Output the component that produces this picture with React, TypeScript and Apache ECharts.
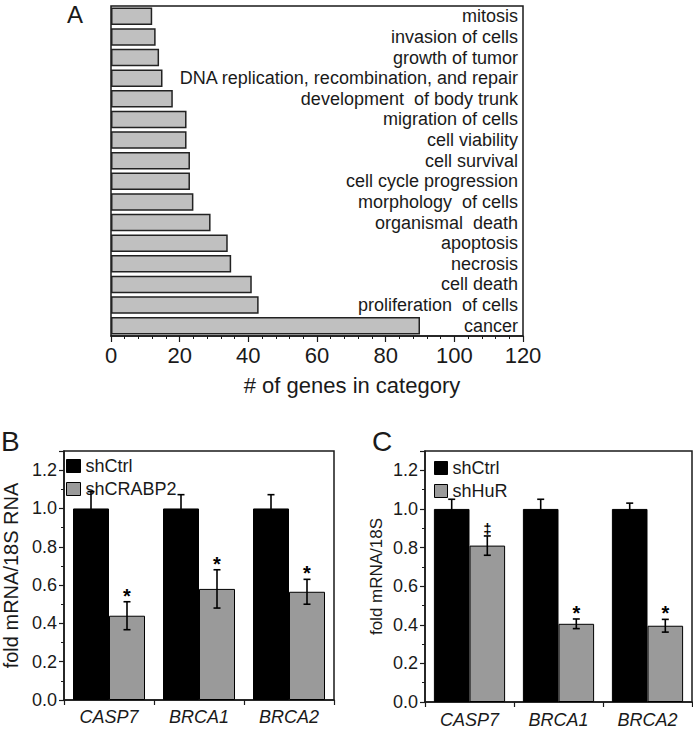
import React, { useEffect, useRef } from "react";
import * as echarts from "echarts";

const FONT = "'Liberation Sans', Arial, sans-serif";

// Panel A
const categoriesA = [
  "mitosis",
  "invasion of cells",
  "growth of tumor",
  "DNA replication, recombination, and repair",
  "development  of body trunk",
  "migration of cells",
  "cell viability",
  "cell survival",
  "cell cycle progression",
  "morphology  of cells",
  "organismal  death",
  "apoptosis",
  "necrosis",
  "cell death",
  "proliferation  of cells",
  "cancer",
];
const valuesA = [12, 13, 14, 15, 18, 22, 22, 23, 23, 24, 29, 34, 35, 41, 43, 90];
const ticksA = [0, 20, 40, 60, 80, 100, 120];

// Panels B and C
const genes = ["CASP7", "BRCA1", "BRCA2"];
const yTicks = [0, 0.2, 0.4, 0.6, 0.8, 1.0, 1.2];

const ctrlB = [1.0, 1.0, 1.0];
const ctrlErrB = [0.088, 0.072, 0.072];
const crabp2B = [0.44, 0.58, 0.565];
const crabp2ErrB = [0.073, 0.1, 0.065];
const marksB = ["*", "*", "*"];

const ctrlC = [1.0, 1.0, 1.0];
const ctrlErrC = [0.05, 0.05, 0.03];
const hurC = [0.81, 0.405, 0.395];
const hurErrC = [0.05, 0.025, 0.033];
const marksC = ["\u2021", "*", "*"];

const INK = "#1a1a1a";

function errData(ctrl: number[], ctrlErr: number[], kd: number[], kdErr: number[]) {
  const out: number[][] = [];
  for (let i = 0; i < ctrl.length; i++) {
    out.push([i, ctrl[i], ctrlErr[i], -1]);
    out.push([i, kd[i], kdErr[i], 1]);
  }
  return out;
}

function makeErrRender(marks: string[], markSize: number[]) {
  return (params: any, api: any) => {
    const i = api.value(0);
    const v = api.value(1);
    const e = api.value(2);
    const s = api.value(3);
    const band = api.size([1, 0])[0];
    const cx = api.coord([i, v])[0] + s * band * 0.2;
    const top = api.coord([i, v + e])[1];
    const bot = api.coord([i, v - e])[1];
    const cap = 3.5;
    const ls = { stroke: "#000", lineWidth: 1.6 };
    const children: any[] = [
      { type: "line", shape: { x1: cx, y1: top, x2: cx, y2: bot }, style: ls },
      { type: "line", shape: { x1: cx - cap, y1: top, x2: cx + cap, y2: top }, style: ls },
      { type: "line", shape: { x1: cx - cap, y1: bot, x2: cx + cap, y2: bot }, style: ls },
    ];
    if (s > 0) {
      const k = Math.floor(params.dataIndex / 2);
      const m = marks[k];
      const fs = markSize[k];
      children.push({
        type: "text",
        x: cx,
        y: top + (m === "*" ? 4 : 0),
        style: {
          text: m,
          fontSize: fs,
          fontFamily: FONT,
          fontWeight: "bold",
          fill: "#000",
          align: "center",
          verticalAlign: "bottom",
        },
      });
    }
    return { type: "group", children };
  };
}

const yLabelFmt = (v: number) =>
  yTicks.some((t) => Math.abs(t - v) < 1e-6) ? v.toFixed(1) : "";

function valueYAxis(gridIndex: number, name: string, nameGap: number, nameSize: number) {
  return {
    type: "value",
    gridIndex,
    min: 0,
    max: 1.3,
    interval: 0.2,
    name,
    nameLocation: "middle",
    nameRotate: 90,
    nameGap,
    nameTextStyle: { fontSize: nameSize, fontFamily: FONT, color: INK },
    axisLine: { show: true, lineStyle: { color: INK, width: 1.5 } },
    axisTick: { show: true, length: 5, lineStyle: { color: INK, width: 1.2 } },
    minorTick: { show: true, splitNumber: 2, length: 3, lineStyle: { color: INK, width: 1 } },
    splitLine: { show: false },
    axisLabel: { formatter: yLabelFmt, fontSize: 18, fontFamily: FONT, color: INK, margin: 7 },
  };
}

function catXAxis(gridIndex: number, margin: number) {
  return {
    type: "category",
    gridIndex,
    data: genes,
    axisLine: { show: true, lineStyle: { color: INK, width: 1.5 } },
    axisTick: { show: true, length: 5, lineStyle: { color: INK, width: 1.2 } },
    axisLabel: {
      fontSize: 18,
      fontStyle: "italic",
      fontFamily: FONT,
      color: INK,
      margin,
    },
    splitLine: { show: false },
  };
}

export default function App() {
  const ref = useRef<HTMLDivElement>(null);

  useEffect(() => {
    if (!ref.current) return;
    const chart = echarts.init(ref.current, undefined, { renderer: "svg" });

    const option: any = {
      animation: false,
      backgroundColor: "#ffffff",
      textStyle: { fontFamily: FONT },
      graphic: [
        { type: "text", left: 67, top: 2, style: { text: "A", fontSize: 24, fontFamily: FONT, fill: INK } },
        { type: "text", left: 1, top: 427, style: { text: "B", fontSize: 28, fontFamily: FONT, fill: INK } },
        { type: "text", left: 372, top: 427, style: { text: "C", fontSize: 28, fontFamily: FONT, fill: INK } },
      ],
      grid: [
        { left: 111, top: 6, width: 412, height: 330, show: true, borderColor: INK, borderWidth: 1.5, backgroundColor: "transparent" },
        { left: 57, top: 451, width: 277, height: 249, show: true, borderColor: INK, borderWidth: 1.5, backgroundColor: "transparent" },
        { left: 425, top: 451, width: 267, height: 253, show: true, borderColor: INK, borderWidth: 1.5, backgroundColor: "transparent" },
      ],
      legend: [
        {
          orient: "vertical",
          left: 66,
          top: 457,
          padding: 0,
          itemWidth: 14,
          itemHeight: 13,
          itemGap: 5,
          icon: "rect",
          textStyle: { fontSize: 18, fontFamily: FONT, color: INK },
          data: [
            { name: "shCtrl", itemStyle: { color: "#000", borderColor: "#000", borderWidth: 1 } },
            { name: "shCRABP2", itemStyle: { color: "#9a9a9a", borderColor: "#000", borderWidth: 1 } },
          ],
        },
        {
          orient: "vertical",
          left: 434,
          top: 459,
          padding: 0,
          itemWidth: 13,
          itemHeight: 13,
          itemGap: 5,
          icon: "rect",
          textStyle: { fontSize: 18, fontFamily: FONT, color: INK },
          data: [
            { name: "shCtrl", itemStyle: { color: "#000", borderColor: "#000", borderWidth: 1 } },
            { name: "shHuR", itemStyle: { color: "#9a9a9a", borderColor: "#000", borderWidth: 1 } },
          ],
        },
      ],
      xAxis: [
        {
          type: "value",
          gridIndex: 0,
          min: 0,
          max: 120,
          interval: 20,
          name: "# of genes in category",
          nameLocation: "middle",
          nameGap: 38,
          nameTextStyle: { fontSize: 22, fontFamily: FONT, color: INK, padding: [0, 0, 0, 70] },
          axisLine: { show: true, lineStyle: { color: INK, width: 1.5 } },
          axisTick: { show: true, length: 6, lineStyle: { color: INK, width: 1.2 } },
          minorTick: { show: true, splitNumber: 5, length: 3, lineStyle: { color: INK, width: 1 } },
          splitLine: { show: false },
          axisLabel: {
            fontSize: 22,
            fontFamily: FONT,
            color: INK,
            margin: 8,
            formatter: (v: number) => (ticksA.includes(v) ? String(v) : ""),
          },
        },
        catXAxis(1, 8),
        catXAxis(2, 9),
      ],
      yAxis: [
        {
          type: "category",
          gridIndex: 0,
          inverse: true,
          position: "right",
          data: categoriesA,
          axisLine: { show: false },
          axisTick: { show: false },
          splitLine: { show: false },
          axisLabel: { inside: true, interval: 0, margin: 5, fontSize: 18, fontFamily: FONT, color: INK },
        },
        valueYAxis(1, "fold mRNA/18S RNA", 43, 20),
        valueYAxis(2, "fold mRNA/18S", 40, 17),
      ],
      series: [
        {
          type: "bar",
          name: "genes",
          xAxisIndex: 0,
          yAxisIndex: 0,
          data: valuesA,
          barCategoryGap: "15%",
          itemStyle: { color: "#c0c0c0", borderColor: "#222", borderWidth: 1.5 },
        },
        {
          type: "bar",
          name: "shCtrl",
          xAxisIndex: 1,
          yAxisIndex: 1,
          data: ctrlB,
          barGap: "0%",
          barCategoryGap: "20%",
          itemStyle: { color: "#000", borderColor: "#000", borderWidth: 1 },
        },
        {
          type: "bar",
          name: "shCRABP2",
          xAxisIndex: 1,
          yAxisIndex: 1,
          data: crabp2B,
          barGap: "0%",
          barCategoryGap: "20%",
          itemStyle: { color: "#9a9a9a", borderColor: "#000", borderWidth: 1 },
        },
        {
          type: "custom",
          name: "errB",
          xAxisIndex: 1,
          yAxisIndex: 1,
          z: 5,
          encode: { x: 0, y: 1 },
          data: errData(ctrlB, ctrlErrB, crabp2B, crabp2ErrB),
          renderItem: makeErrRender(marksB, [20, 20, 20]),
        },
        {
          type: "bar",
          name: "shCtrl",
          xAxisIndex: 2,
          yAxisIndex: 2,
          data: ctrlC,
          barGap: "0%",
          barCategoryGap: "20%",
          itemStyle: { color: "#000", borderColor: "#000", borderWidth: 1 },
        },
        {
          type: "bar",
          name: "shHuR",
          xAxisIndex: 2,
          yAxisIndex: 2,
          data: hurC,
          barGap: "0%",
          barCategoryGap: "20%",
          itemStyle: { color: "#9a9a9a", borderColor: "#000", borderWidth: 1 },
        },
        {
          type: "custom",
          name: "errC",
          xAxisIndex: 2,
          yAxisIndex: 2,
          z: 5,
          encode: { x: 0, y: 1 },
          data: errData(ctrlC, ctrlErrC, hurC, hurErrC),
          renderItem: makeErrRender(marksC, [15, 20, 20]),
        },
      ],
    };

    chart.setOption(option);
    return () => chart.dispose();
  }, []);

  return (
    <div
      ref={ref}
      style={{ position: "fixed", left: 0, top: 0, width: 693, height: 729, background: "#fff" }}
    />
  );
}
